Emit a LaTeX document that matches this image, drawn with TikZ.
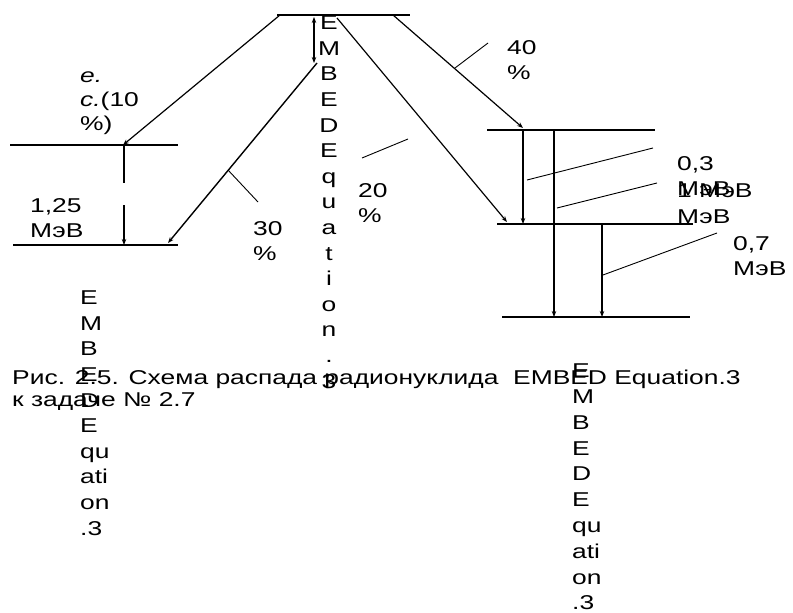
\documentclass[tikz,border=0pt]{standalone}
\usepackage{fontspec}
\setmainfont{Liberation Sans}[FakeStretch=1.32]
\usetikzlibrary{arrows.meta}
\begin{document}
\begin{tikzpicture}[x=1pt,y=-1pt,
  lvl/.style={line width=2pt},
  trans/.style={line width=1.2pt,-{Stealth[length=6pt,width=4.5pt]}},
  both/.style={line width=1.2pt,{Stealth[length=6pt,width=4.5pt]}-{Stealth[length=6pt,width=4.5pt]}},
  plain/.style={line width=1.2pt},
  lead/.style={line width=0.9pt},
  lbl/.style={inner sep=0pt, anchor=north west, align=left, font=\fontsize{20}{25}\selectfont},
  vlbl/.style={inner sep=0pt, anchor=north, align=center, font=\fontsize{20}{25.6}\selectfont}]
\useasboundingbox (0,0) rectangle (793,613);
% levels
\coordinate (T0) at (277,15);  \coordinate (T1) at (410,15);
\coordinate (L1a) at (10,145); \coordinate (L1b) at (178,145);
\coordinate (L2a) at (13,245); \coordinate (L2b) at (178,245);
\coordinate (RAa) at (487,130); \coordinate (RAb) at (655,130);
\coordinate (RBa) at (497,224); \coordinate (RBb) at (693,224);
\coordinate (RCa) at (502,317); \coordinate (RCb) at (690,317);
\draw[lvl] (T0) -- (T1);
\draw[lvl] (L1a) -- (L1b);
\draw[lvl] (L2a) -- (L2b);
\draw[lvl] (RAa) -- (RAb);
\draw[lvl] (RBa) -- (RBb);
\draw[lvl] (RCa) -- (RCb);
% transition end points
\coordinate (s10) at (280,15);  \coordinate (e10) at (123,145);
\coordinate (s30) at (317,63);  \coordinate (e30) at (168,243);
\coordinate (dA) at (314,17);   \coordinate (dB) at (314,63);
\coordinate (s20) at (337,18);  \coordinate (e20) at (507,222);
\coordinate (s40) at (393,15);  \coordinate (e40) at (523,128);
\coordinate (g1) at (124,145);  \coordinate (g2) at (124,183);
\coordinate (g3) at (124,205);  \coordinate (g4) at (124,245);
\coordinate (ra1) at (523,130); \coordinate (ra2) at (523,224);
\coordinate (rb1) at (554,130); \coordinate (rb2) at (554,317);
\coordinate (rc1) at (602,224); \coordinate (rc2) at (602,317);
\draw[trans] (s10) -- (e10);
\draw[trans,line width=1.4pt] (s30) -- (e30);
\draw[both] (dA) -- (dB);
\draw[trans] (s20) -- (e20);
\draw[trans] (s40) -- (e40);
\draw[plain] (g1) -- (g2);
\draw[trans] (g3) -- (g4);
\draw[trans] (ra1) -- (ra2);
\draw[trans] (rb1) -- (rb2);
\draw[trans] (rc1) -- (rc2);
% leader lines
\coordinate (k30a) at (228,170); \coordinate (k30b) at (258,202);
\coordinate (k40a) at (455,68);  \coordinate (k40b) at (488,43);
\coordinate (k20a) at (362,158); \coordinate (k20b) at (408,139);
\coordinate (kaa) at (527,180);  \coordinate (kab) at (653,148);
\coordinate (kba) at (557,208);  \coordinate (kbb) at (657,183);
\coordinate (kca) at (603,275);  \coordinate (kcb) at (717,233);
\draw[lead] (k30a) -- (k30b);
\draw[lead] (k40a) -- (k40b);
\draw[lead] (k20a) -- (k20b);
\draw[lead] (kaa) -- (kab);
\draw[lead] (kba) -- (kbb);
\draw[lead] (kca) -- (kcb);
% labels (first baseline = y + 17.5)
\node[lbl, font=\fontsize{20}{24}\selectfont] (t10) at (80,65.5) {\strut\textit{e.}\\\textit{c.}(10\\\%)};
\node[lbl] (t125) at (30,194.5) {\strut 1,25\\МэВ};
\node[lbl] (t30) at (253,217.5) {\strut 30\\\%};
\node[lbl] (t20) at (358,179.5) {\strut 20\\\%};
\node[lbl] (t40) at (507,36.5) {\strut 40\\\%};
\node[lbl] (t03) at (677,152.5) {\strut 0,3\\МэВ};
\node[lbl, font=\fontsize{20}{26}\selectfont] (t1) at (677,179.5) {\strut 1 МэВ\\МэВ};
\node[lbl] (t07) at (733,232.5) {\strut 0,7\\МэВ};
% vertical equation placeholders
\node[vlbl] (vc) at (329,11.5) {\strut E\\M\\B\\E\\D\\E\\q\\u\\a\\t\\i\\o\\n\\.\\3};
\node[lbl, font=\fontsize{20}{25.6}\selectfont] (vl) at (80,286.5) {\strut E\\M\\B\\E\\D\\E\\qu\\ati\\on\\.3};
\node[lbl, font=\fontsize{20}{25.8}\selectfont] (vr) at (572,359.5) {\strut E\\M\\B\\E\\D\\E\\qu\\ati\\on\\.3};
% caption
\node[lbl, font=\fontsize{20}{22.5}\selectfont] (cap) at (12,368.5) {\strut Рис. 2.5. Схема распада радионуклида\ \ EMBED Equation.3\\к задаче № 2.7};
\end{tikzpicture}
\end{document}
